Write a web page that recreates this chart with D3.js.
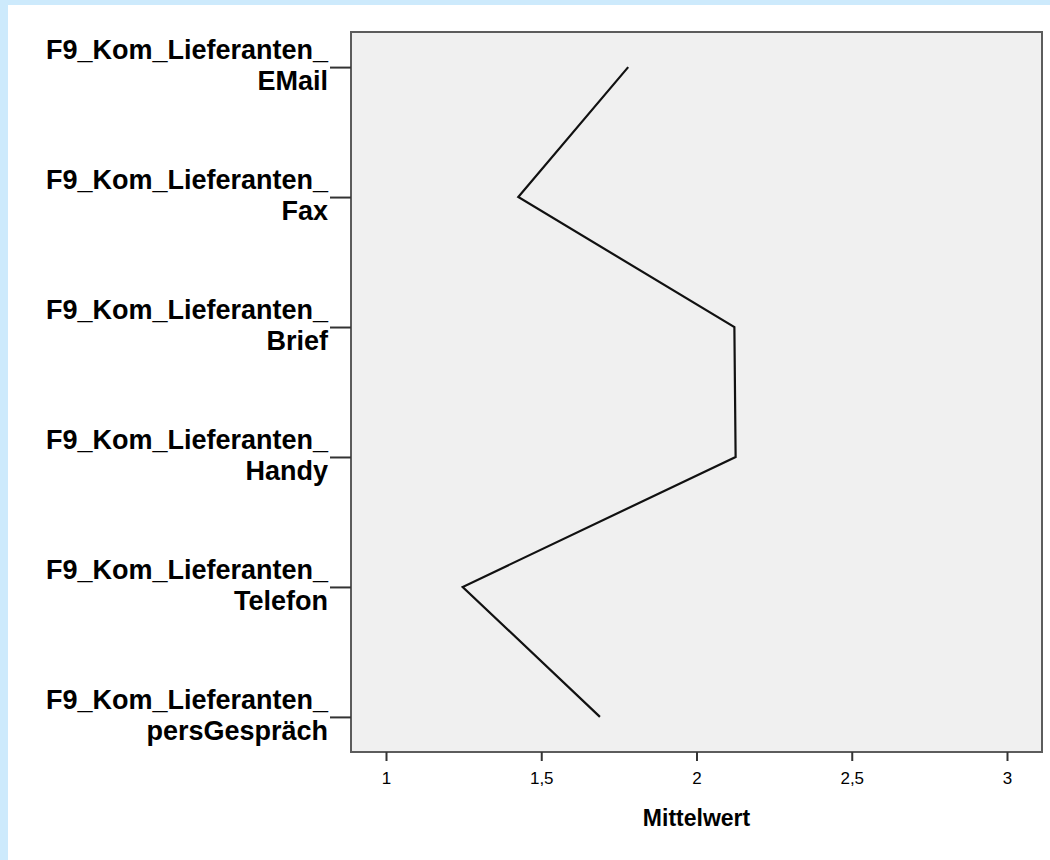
<!DOCTYPE html>
<html>
<head>
<meta charset="utf-8">
<script src="https://cdn.jsdelivr.net/npm/d3@7"></script>
<style>
  html, body { margin: 0; padding: 0; background: #cdeafc; }
  #chart { position: absolute; left: 8px; top: 5px; width: 1042px; height: 855px; background: #fff; }
  text { font-family: "Liberation Sans", Arial, sans-serif; fill: #000; }
</style>
</head>
<body>
<div id="chart"></div>
<script>
// categories (top to bottom), each label on two lines
const categories = ["EMail", "Fax", "Brief", "Handy", "Telefon", "persGespräch"];
const labelPrefix = "F9_Kom_Lieferanten_";
// mean values
const means = [1.78, 1.426, 2.122, 2.126, 1.247, 1.689];
const xTicks = [1, 1.5, 2, 2.5, 3];
const xTitle = "Mittelwert";

const width = 1042, height = 855;
// frame of the plot area (panel coords)
const frame = { left: 343, top: 27, right: 1034, bottom: 747 };

const svg = d3.select("#chart").append("svg")
    .attr("width", width)
    .attr("height", height);

const x = d3.scaleLinear()
    .domain([1, 3])
    .range([378, 999]);

const y = d3.scalePoint()
    .domain(categories)
    .range([frame.top, frame.bottom])
    .padding(0.27);

// plot background
svg.append("rect")
    .attr("x", frame.left)
    .attr("y", frame.top)
    .attr("width", frame.right - frame.left)
    .attr("height", frame.bottom - frame.top)
    .attr("fill", "#f0f0f0")
    .attr("stroke", "#5c5c5c")
    .attr("stroke-width", 2);

// the mean line
const line = d3.line()
    .x((d, i) => x(d))
    .y((d, i) => y(categories[i]));

svg.append("path")
    .datum(means)
    .attr("d", line)
    .attr("fill", "none")
    .attr("stroke", "#111")
    .attr("stroke-width", 2.2)
    .attr("stroke-linejoin", "miter");

// x axis
const xAxis = svg.append("g")
    .attr("transform", `translate(0,${frame.bottom})`)
    .call(d3.axisBottom(x)
      .tickValues(xTicks)
      .tickSize(9)
      .tickPadding(11)
      .tickFormat(d => String(d).replace(".", ",")));
xAxis.select(".domain").remove();
xAxis.selectAll(".tick line").attr("stroke", "#333").attr("stroke-width", 2);
xAxis.selectAll(".tick text")
    .attr("font-size", 17)
    .attr("font-family", "Liberation Sans, Arial, sans-serif")
    .attr("fill", "#000");

svg.append("text")
    .attr("x", (x(1) + x(3)) / 2)
    .attr("y", 821)
    .attr("text-anchor", "middle")
    .attr("font-size", 23)
    .attr("font-weight", "bold")
    .text(xTitle);

// y axis
const yAxis = svg.append("g")
    .attr("transform", `translate(${frame.left},0)`)
    .call(d3.axisLeft(y).tickSize(21).tickFormat(""));
yAxis.select(".domain").remove();
yAxis.selectAll(".tick line").attr("stroke", "#333").attr("stroke-width", 2);

const labels = svg.append("g").selectAll("text")
    .data(categories)
    .join("text")
    .attr("text-anchor", "end")
    .attr("font-size", 27)
    .attr("font-weight", "bold")
    .attr("y", d => y(d));

labels.append("tspan")
    .attr("x", 320)
    .attr("dy", -8)
    .text(labelPrefix);
labels.append("tspan")
    .attr("x", 320)
    .attr("dy", 31)
    .text(d => d);
</script>
</body>
</html>
